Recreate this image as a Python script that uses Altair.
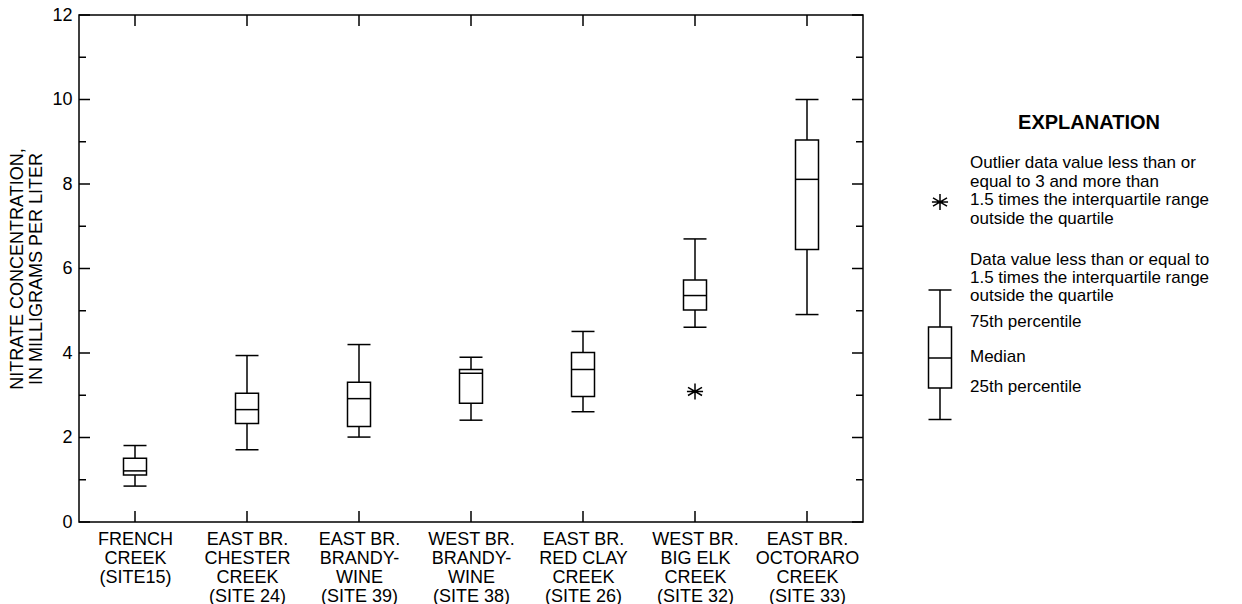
import json
import altair as alt
import pandas as pd

# ---------------- data ----------------
sites = [
    "FRENCH|CREEK|(SITE15)",
    "EAST BR.|CHESTER|CREEK|(SITE 24)",
    "EAST BR.|BRANDY-|WINE|(SITE 39)",
    "WEST BR.|BRANDY-|WINE|(SITE 38)",
    "EAST BR.|RED CLAY|CREEK|(SITE 26)",
    "WEST BR.|BIG ELK|CREEK|(SITE 32)",
    "EAST BR.|OCTORARO|CREEK|(SITE 33)",
]
whisker_low = [0.85, 1.71, 2.01, 2.41, 2.61, 4.61, 4.91]
q1 = [1.11, 2.33, 2.26, 2.81, 2.97, 5.02, 6.45]
median = [1.21, 2.66, 2.92, 3.52, 3.61, 5.36, 8.11]
q3 = [1.51, 3.05, 3.31, 3.61, 4.01, 5.73, 9.04]
whisker_high = [1.81, 3.94, 4.20, 3.90, 4.51, 6.70, 10.0]
outlier_site = [5]
outlier_value = [3.09]

y_major = [0, 2, 4, 6, 8, 10, 12]
y_minor = [1, 3, 5, 7, 9, 11]

y_title = ["NITRATE CONCENTRATION,", "IN MILLIGRAMS PER LITER"]
legend_title = "EXPLANATION"
legend_outlier = ["Outlier data value less than or", "equal to 3 and more than",
                  "1.5 times the interquartile range", "outside the quartile"]
legend_whisker = ["Data value less than or equal to", "1.5 times the interquartile range",
                  "outside the quartile"]
legend_p75 = "75th percentile"
legend_med = "Median"
legend_p25 = "25th percentile"

# ---------------- layout ----------------
W, H = 784, 507
FONT = "Liberation Sans"
FS = 18
LFS = 17
BOXW = 11.5
SW = 1.5

df = pd.DataFrame({
    "idx": list(range(len(sites))),
    "lo": whisker_low, "q1": q1, "med": median, "q3": q3, "hi": whisker_high,
})
df_out = pd.DataFrame({"idx": outlier_site, "v": outlier_value})
df_major = pd.DataFrame({"v": y_major})
df_minor = pd.DataFrame({"v": y_minor})
df_xt = pd.DataFrame({"idx": list(range(len(sites)))})
one = pd.DataFrame({"a": [0]})

label_expr = "split(" + json.dumps(sites) + "[datum.value], '|')"

xscale = alt.Scale(domain=[-0.5, len(sites) - 0.5], nice=False, zero=False)
yscale = alt.Scale(domain=[0, 12], nice=False)

xaxis = alt.Axis(values=list(range(len(sites))), labelExpr=label_expr, ticks=False,
                 domain=False, grid=False, labelFontSize=FS, labelLineHeight=19,
                 labelPadding=8, labelOverlap=False, labelFlush=False, labelBound=False,
                 labelColor="black", title=None)
yaxis = alt.Axis(values=y_major, format="d", ticks=False, domain=False, grid=False,
                 labelFontSize=FS, labelPadding=7, labelColor="black",
                 title=y_title, titleFontSize=FS, titleFontWeight="normal",
                 titleColor="black", titlePadding=6, titleLineHeight=19)

X = alt.X("idx:Q", scale=xscale, axis=xaxis)
X2 = alt.X2("idx")

base = alt.Chart(df)

whisk_lo = base.mark_rule(color="black", strokeWidth=SW).encode(
    x=X, y=alt.Y("lo:Q", scale=yscale, axis=yaxis), y2="q1")
whisk_hi = base.mark_rule(color="black", strokeWidth=SW).encode(
    x=X, y=alt.Y("q3:Q", scale=yscale, axis=yaxis), y2="hi")
box = base.mark_rect(fill="white", stroke="black", strokeWidth=SW,
                     xOffset=-BOXW, x2Offset=BOXW).encode(
    x=X, x2=X2, y=alt.Y("q1:Q", scale=yscale, axis=yaxis), y2="q3")
med = base.mark_rule(color="black", strokeWidth=SW, xOffset=-BOXW, x2Offset=BOXW).encode(
    x=X, x2=X2, y=alt.Y("med:Q", scale=yscale, axis=yaxis))
cap_lo = base.mark_rule(color="black", strokeWidth=SW, xOffset=-BOXW, x2Offset=BOXW).encode(
    x=X, x2=X2, y=alt.Y("lo:Q", scale=yscale, axis=yaxis))
cap_hi = base.mark_rule(color="black", strokeWidth=SW, xOffset=-BOXW, x2Offset=BOXW).encode(
    x=X, x2=X2, y=alt.Y("hi:Q", scale=yscale, axis=yaxis))

STAR = "M0,-1L0,1M-0.87,-0.5L0.87,0.5M-0.87,0.5L0.87,-0.5M-1,0L1,0"
outl = alt.Chart(df_out).mark_point(shape=STAR, filled=False, stroke="black",
                                    strokeWidth=SW, size=260, opacity=1).encode(
    x=X, y=alt.Y("v:Q", scale=yscale, axis=yaxis))

# inward ticks
def yticks(d, length):
    left = alt.Chart(d).mark_rule(color="black", strokeWidth=SW).encode(
        y=alt.Y("v:Q", scale=yscale, axis=yaxis), x=alt.value(0), x2=alt.value(length))
    right = alt.Chart(d).mark_rule(color="black", strokeWidth=SW).encode(
        y=alt.Y("v:Q", scale=yscale, axis=yaxis), x=alt.value(W), x2=alt.value(W - length))
    return [left, right]

xt_bot = alt.Chart(df_xt).mark_rule(color="black", strokeWidth=SW).encode(
    x=X, y=alt.value(H), y2=alt.value(H - 11))
xt_top = alt.Chart(df_xt).mark_rule(color="black", strokeWidth=SW).encode(
    x=X, y=alt.value(0), y2=alt.value(11))

# ---------------- legend (explanation) ----------------
OX, OY = 79, 15
TX = 970 - OX
CX = 940 - OX
leg = []
leg.append(alt.Chart(one).mark_text(text=legend_title, font=FONT, fontSize=20, fontWeight="bold",
                                    align="center", baseline="middle", color="black").encode(
    x=alt.value(1089 - OX), y=alt.value(123 - OY)))
leg.append(alt.Chart(one).mark_text(text=legend_outlier, font=FONT, fontSize=LFS, lineHeight=18.7,
                                    align="left", baseline="top", color="black").encode(
    x=alt.value(TX), y=alt.value(155 - OY)))
leg.append(alt.Chart(one).mark_text(text=legend_whisker, font=FONT, fontSize=LFS, lineHeight=18,
                                    align="left", baseline="top", color="black").encode(
    x=alt.value(TX), y=alt.value(252 - OY)))
for txt, yy in [(legend_p75, 322), (legend_med, 357), (legend_p25, 387)]:
    leg.append(alt.Chart(one).mark_text(text=txt, font=FONT, fontSize=LFS, align="left",
                                        baseline="middle", color="black").encode(
        x=alt.value(TX), y=alt.value(yy - OY)))
leg.append(alt.Chart(one).mark_point(shape=STAR, filled=False, stroke="black", strokeWidth=SW,
                                     size=260, opacity=1).encode(
    x=alt.value(CX), y=alt.value(202 - OY)))
leg.append(alt.Chart(one).mark_rule(color="black", strokeWidth=SW).encode(
    x=alt.value(CX), y=alt.value(290 - OY), y2=alt.value(419.5 - OY)))
leg.append(alt.Chart(one).mark_rect(fill="white", stroke="black", strokeWidth=SW).encode(
    x=alt.value(CX - BOXW), x2=alt.value(CX + BOXW), y=alt.value(327 - OY), y2=alt.value(388 - OY)))
for yy in [290, 358, 419.5]:
    leg.append(alt.Chart(one).mark_rule(color="black", strokeWidth=SW).encode(
        x=alt.value(CX - BOXW), x2=alt.value(CX + BOXW), y=alt.value(yy - OY)))

layers = [whisk_lo, whisk_hi, box, med, cap_lo, cap_hi, outl,
          *yticks(df_major, 11), *yticks(df_minor, 7), xt_bot, xt_top, *leg]

chart = alt.layer(*layers).properties(
    width=W, height=H,
    padding={"left": OX, "top": OY, "right": 1242 - OX - W, "bottom": 604 - OY - H},
    autosize=alt.AutoSizeParams(type="none"),
    background="white",
).configure(font=FONT).configure_view(stroke="black", strokeWidth=SW)

chart.save("out.html", embed_options={"renderer": "svg", "actions": False})
